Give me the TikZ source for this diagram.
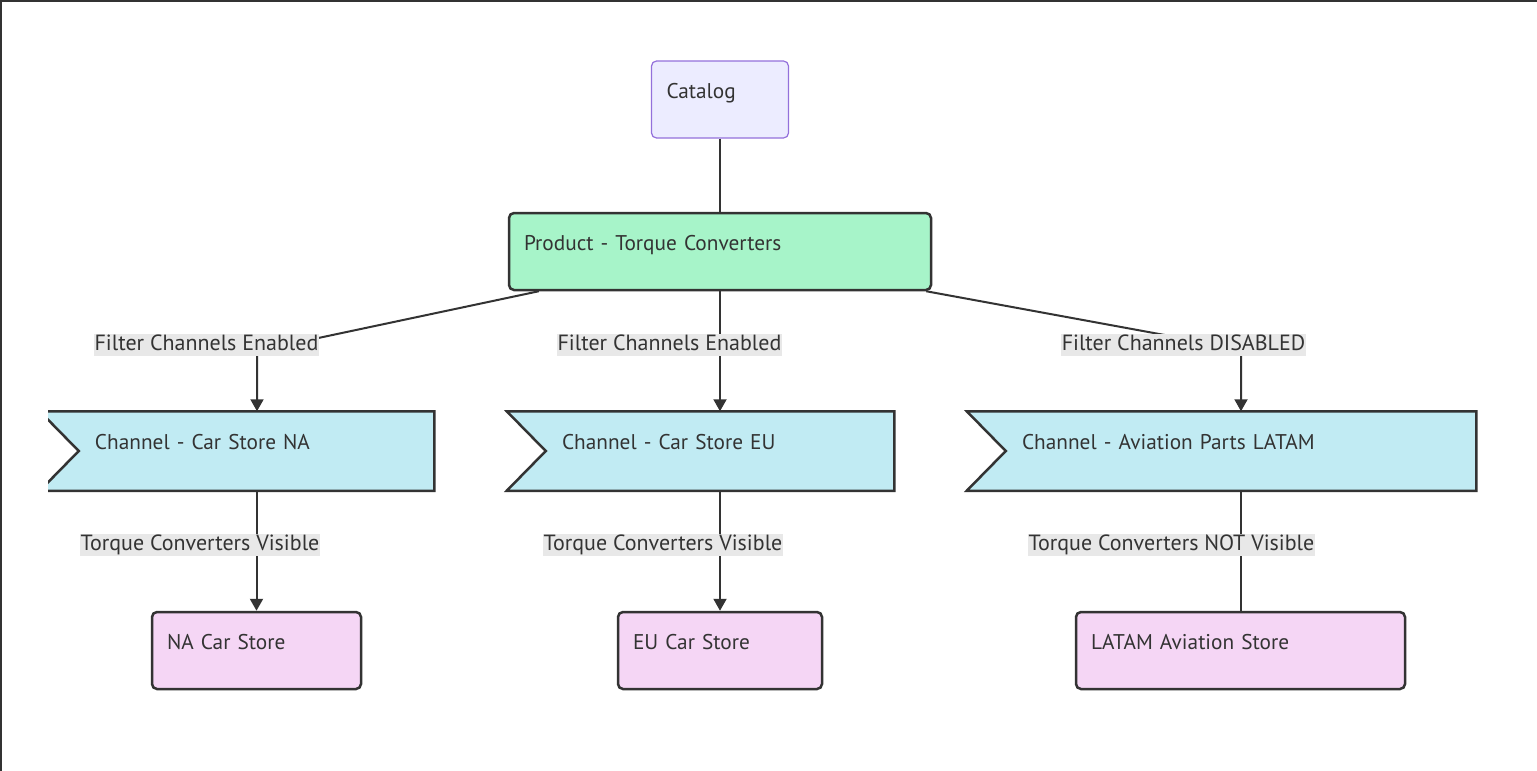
\documentclass[tikz,border=0pt]{standalone}
\usepackage{fontspec}
\setmainfont{PT Sans}
\usetikzlibrary{arrows.meta,backgrounds,calc}
\definecolor{ink}{HTML}{333333}
\definecolor{catfill}{HTML}{ECECFF}
\definecolor{catline}{HTML}{9370DB}
\definecolor{prodfill}{HTML}{A7F4C9}
\definecolor{chanfill}{HTML}{C1EBF3}
\definecolor{storefill}{HTML}{F5D6F5}
\definecolor{lblfill}{HTML}{E8E8E8}
\tikzset{
	txt/.style={text=ink,font=\fontsize{21.3}{25}\selectfont},
	box/.style={txt,rounded corners=5pt,line width=2.5pt,draw=ink,align=left,inner xsep=15pt,inner ysep=0pt,text height=37pt,text depth=40pt},
	catbox/.style={box,fill=catfill,draw=catline,line width=1.2pt},
	prodbox/.style={box,fill=prodfill},
	storebox/.style={box,fill=storefill},
	chanbox/.style={box,draw=none,execute at begin node={\hspace*{39pt}}},
	flag/.style={fill=chanfill,draw=ink,line width=2.5pt,line join=miter},
	link/.style={draw=ink,line width=2pt,line join=round},
	elabel/.style={txt,font=\fontsize{22}{26}\selectfont,fill=lblfill,inner xsep=0.5pt,inner ysep=1pt,text height=15pt,text depth=4.5pt}
}
\begin{document}
\begin{tikzpicture}[>={Triangle[length=12pt,width=13pt]},x=1pt,y=-1pt]
		\useasboundingbox (0,0) rectangle (1537,771);
		\draw[line width=2pt,ink] (1,771) -- (1,1) -- (1537,1);
		% nodes
		\node[catbox,text width=107pt] (catalog) at (720,99.5) {Catalog};
		\node[prodbox,text width=392pt] (product) at (720,251.5) {Product - Torque Converters};
		\node[chanbox,text width=362pt] (chanNA) at (237,451) {Channel - Car Store NA};
		\node[chanbox,text width=355pt] (chanEU) at (700.5,451) {Channel - Car Store EU};
		\node[chanbox,text width=477pt] (chanLA) at (1221.5,451) {Channel - Aviation Parts LATAM};
		\node[storebox,text width=179pt] (storeNA) at (256.5,650.5) {NA Car Store};
		\node[storebox,text width=174pt] (storeEU) at (720,650.5) {EU Car Store};
		\node[storebox,text width=299pt] (storeLA) at (1240.5,650.5) {LATAM Aviation Store};
		\begin{scope}[on background layer]
			\clip (48,0) rectangle (1537,771);
			\foreach \c in {chanNA,chanEU,chanLA}
				\draw[flag] (\c.north west) -- (\c.north east) -- (\c.south east) -- (\c.south west) -- ($(\c.west)+(39,0)$) -- cycle;
		\end{scope}
		% connectors
		\coordinate (bendNA) at (257,351);
		\coordinate (bendLA) at (1241,349);
		\draw[link] (catalog) -- (product);
		\draw[link,->] ([xshift=31pt]product.south west) -- (bendNA) -- (chanNA.north -| bendNA);
		\draw[link,->] (product.south) -- (chanEU.north -| product.south);
		\draw[link,->] ([xshift=-6pt]product.south east) -- (bendLA) -- (chanLA.north -| bendLA);
		\draw[link,->] (chanNA.south -| storeNA.north) -- (storeNA.north);
		\draw[link,->] (chanEU.south -| storeEU.north) -- (storeEU.north);
		\draw[link] (chanLA.south -| storeLA.north) -- (storeLA.north);
		% edge labels
		\node[elabel] (lblNA) at (206.5,345) {Filter Channels Enabled};
		\node[elabel] (lblEU) at (669.5,345) {Filter Channels Enabled};
		\node[elabel] (lblLA) at (1183.5,345) {Filter Channels DISABLED};
		\node[elabel] (visNA) at (200,545) {Torque Converters Visible};
		\node[elabel] (visEU) at (663,545) {Torque Converters Visible};
		\node[elabel] (visLA) at (1171.5,545) {Torque Converters NOT Visible};
\end{tikzpicture}
\end{document}
